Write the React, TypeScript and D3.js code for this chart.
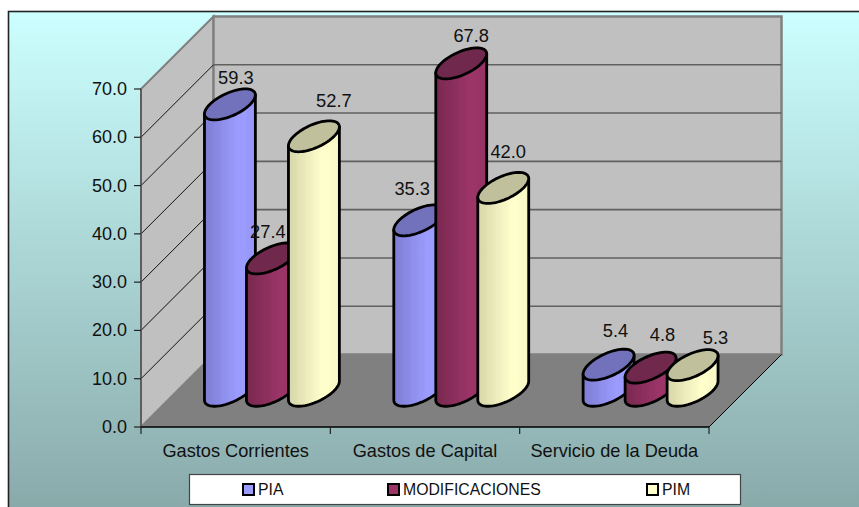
import * as d3 from "d3";

const categories = ["Gastos Corrientes", "Gastos de Capital", "Servicio de la Deuda"];
const seriesNames = ["PIA", "MODIFICACIONES", "PIM"];
const pia = [59.3, 35.3, 5.4];
const modificaciones = [27.4, 67.8, 4.8];
const pim = [52.7, 42.0, 5.3];
const seriesValues = [pia, modificaciones, pim];
const yTicks = [0, 10, 20, 30, 40, 50, 60, 70];

// hand placed labels, the original chart had them dragged around
const labelNudgeX = [[6, -7, 7], [-4, 10, 12], [20, 5, 23]];
const labelNudgeY = [[-5, -10, -12], [-5, -6, -11], [-14, -14, -6]];

const seriesColors = [
    {dark: "#7c7cd2", light: "#9c9cff", top: "#7272bc"},
    {dark: "#77284f", light: "#9c3468", top: "#70284c"},
    {dark: "#d4d4a8", light: "#ffffcc", top: "#c0c09c"}
];
const legendSwatchX = [243, 388, 647];

const width = 859;
const height = 507;
const left = 141;
const right = 709;
const depth = 72.5;
const fontFamily = "'Liberation Sans', Arial, sans-serif";

const y = d3.scaleLinear().domain([0, 70]).range([427, 89]);
const x = d3.scaleBand().domain(categories).range([left, right]);
const xSeries = d3.scaleBand().domain(seriesNames).range([-63, 63]);

const radiusX = 20.2;
const radiusZ = 15.5;
const tangent = Math.atan2(radiusZ, radiusX);

const line = d3.line();
const ringPoint = (cx: number, cy: number, t: number): [number, number] => [
    cx + radiusX * Math.cos(t) + radiusZ * Math.sin(t),
    cy - radiusZ * Math.sin(t)
];

function topEllipse(cx: number, cy: number) {
    const pts = d3.range(0, 72).map(i => ringPoint(cx, cy, i / 72 * 2 * Math.PI));
    return line(pts) + "Z";
}

function cylinderBody(cx: number, topY: number, baseY: number) {
    const steps = d3.range(0, 37).map(i => tangent - i / 36 * Math.PI);
    const lower = steps.map(t => ringPoint(cx, baseY, t));
    const start = ringPoint(cx, topY, tangent);
    const end = ringPoint(cx, topY, tangent - Math.PI);
    return line([start, ...lower, end]) + "Z";
}

function Cylinder({cx, value, name, colorIndex}: {cx: number, value: number, name: string, colorIndex: number}) {
    const baseY = y(0) - depth / 2;
    const topY = y(value) - depth / 2;
    return (
        <g>
            <path d={cylinderBody(cx, topY, baseY)} fill={`url(#bar-${colorIndex})`}
                  stroke="#000" strokeWidth={2.8} strokeLinejoin="round"/>
            <path d={topEllipse(cx, topY)} fill={seriesColors[colorIndex].top}
                  stroke="#000" strokeWidth={2.8}/>
            <title>{name}</title>
        </g>
    );
}

export default function App() {
    const bandCenter = (c: string) => x(c)! + x.bandwidth() / 2 + depth / 2;
    const seriesOffset = (s: string) => xSeries(s)! + xSeries.bandwidth() / 2;

    return (
        <svg width={width} height={height} style={{position: "absolute", left: 0, top: 0}}
             fontFamily={fontFamily}>
            <defs>
                <linearGradient id="bg" x1="0" y1="0" x2="0" y2="1">
                    <stop offset="0" stopColor="#ccffff"/>
                    <stop offset="1" stopColor="#88a8a8"/>
                </linearGradient>
                {seriesColors.map((c, i) => {
                    const ramp = d3.interpolateRgb(c.dark, c.light);
                    return (
                        <linearGradient key={i} id={`bar-${i}`} x1="0" y1="0" x2="1" y2="0">
                            {d3.range(0, 15).map(k => {
                                const pos = k / 14;
                                const wobble = k % 2 ? 0.06 : 0;
                                const amount = pos < 0.68 ? pos / 0.68 : 1 - (pos - 0.68) * 0.7;
                                return <stop key={k} offset={pos} stopColor={ramp(Math.min(1, amount + wobble))}/>;
                            })}
                        </linearGradient>
                    );
                })}
            </defs>

            <rect x={8.5} y={11.5} width={width} height={height} fill="url(#bg)" stroke="#222" strokeWidth={1.6}/>

            {/* side wall, back wall, floor */}
            <path d={line([[left, y(70)], [left + depth, y(70) - depth], [left + depth, y(0) - depth], [left, y(0)]]) + "Z"}
                  fill="#c0c0c0" stroke="#808080" strokeWidth={2}/>
            <rect x={left + depth} y={y(70) - depth} width={right - left} height={y(0) - y(70)}
                  fill="#c0c0c0" stroke="#808080" strokeWidth={2.5}/>
            <path d={line([[left, y(0)], [left + depth, y(0) - depth], [right + depth, y(0) - depth], [right, y(0)]]) + "Z"}
                  fill="#808080"/>
            <line x1={right} y1={y(0)} x2={right + depth} y2={y(0) - depth} stroke="#000" strokeWidth={1}/>

            {/* grid */}
            {yTicks.filter(t => t > 0 && t < 70).map(t => (
                <g key={t}>
                    <line x1={left} y1={y(t)} x2={left + depth} y2={y(t) - depth} stroke="#111" strokeWidth={1}/>
                    <line x1={left + depth} y1={y(t) - depth} x2={right + depth} y2={y(t) - depth}
                          stroke="#606060" strokeWidth={1.6}/>
                </g>
            ))}

            {/* axes */}
            <line x1={left} y1={y(70)} x2={left} y2={y(0)} stroke="#555" strokeWidth={1.6}/>
            <line x1={left} y1={y(0)} x2={right} y2={y(0)} stroke="#000" strokeWidth={1.4}/>
            {yTicks.map(t => (
                <g key={t}>
                    <line x1={left - 7} y1={y(t)} x2={left} y2={y(t)} stroke="#222" strokeWidth={1.2}/>
                    <text x={127} y={y(t) + 6} textAnchor="end" fontSize={18} fill="#111">{t.toFixed(1)}</text>
                </g>
            ))}
            {d3.range(0, categories.length + 1).map(i => {
                const tx = left + i * x.step();
                return <line key={i} x1={tx} y1={y(0)} x2={tx} y2={y(0) + 7} stroke="#222" strokeWidth={1.2}/>;
            })}
            {categories.map(c => (
                <text key={c} x={x(c)! + x.bandwidth() / 2} y={456.5} textAnchor="middle" fontSize={18.2} fill="#111">{c}</text>
            ))}

            {/* cylinders, series by series inside each category */}
            {categories.map((c, ci) => seriesNames.map((s, si) => (
                <Cylinder key={s + c} cx={bandCenter(c) + seriesOffset(s)} value={seriesValues[si][ci]}
                          name={s} colorIndex={si}/>
            )))}

            {/* value labels */}
            {categories.map((c, ci) => seriesNames.map((s, si) => {
                const value = seriesValues[si][ci];
                return (
                    <text key={s + c} x={bandCenter(c) + seriesOffset(s) + labelNudgeX[si][ci]}
                          y={y(value) - depth / 2 - radiusZ + labelNudgeY[si][ci]}
                          textAnchor="middle" fontSize={18.3} fill="#111">{value.toFixed(1)}</text>
                );
            }))}

            {/* legend */}
            <rect x={189.5} y={474.5} width={551} height={30} fill="#fff" stroke="#444" strokeWidth={1.2}/>
            {seriesNames.map((s, i) => (
                <g key={s}>
                    <rect x={legendSwatchX[i]} y={484} width={11} height={11} fill={seriesColors[i].light}
                          stroke="#000" strokeWidth={2}/>
                    <text x={legendSwatchX[i] + 15} y={495} fontSize={15.8} fill="#111">{s}</text>
                </g>
            ))}
        </svg>
    );
}
